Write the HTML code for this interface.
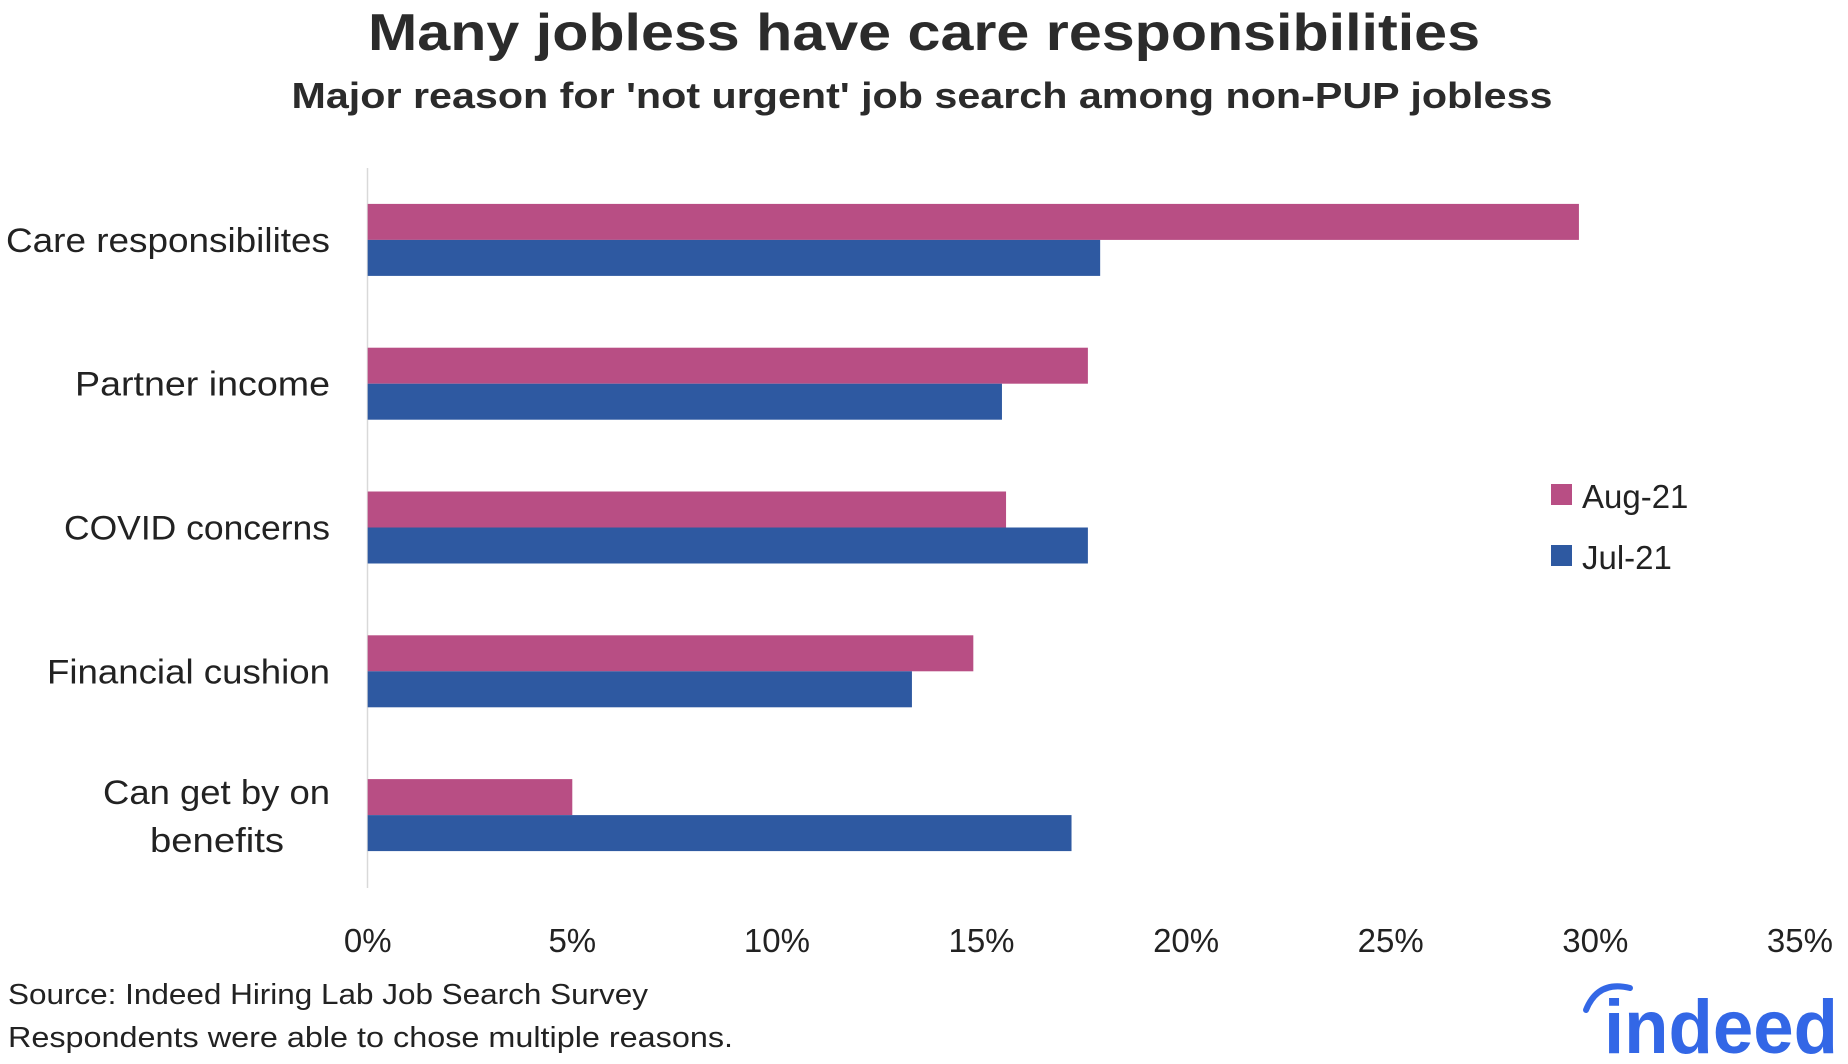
<!DOCTYPE html>
<html><head><meta charset="utf-8"><style>
html,body{margin:0;padding:0;background:#fff;}
svg{display:block;font-family:"Liberation Sans",sans-serif;}
</style></head><body>
<svg id="chart" width="1848" height="1064" viewBox="0 0 1848 1064" xmlns="http://www.w3.org/2000/svg">
<text x="924" y="50" text-anchor="middle" font-size="52" font-weight="bold" fill="#2b2b2b" textLength="1112" lengthAdjust="spacingAndGlyphs">Many jobless have care responsibilities</text>
<text x="922" y="108" text-anchor="middle" font-size="36" font-weight="bold" fill="#2b2b2b" textLength="1261" lengthAdjust="spacingAndGlyphs">Major reason for 'not urgent' job search among non-PUP jobless</text>
<line x1="367.5" y1="168" x2="367.5" y2="888" stroke="#d9d9d9" stroke-width="1.5"/>
<g id="bars"></g>
<g id="ylabels"></g>
<g id="xticks"></g>
<rect x="1551" y="484" width="21" height="21" fill="#b84e84"/>
<text x="1582" y="508" font-size="33" fill="#222">Aug-21</text>
<rect x="1551" y="545" width="21" height="21" fill="#2e59a1"/>
<text x="1582" y="569" font-size="33" fill="#222">Jul-21</text>
<text x="8" y="1004" font-size="29" fill="#222" textLength="640" lengthAdjust="spacingAndGlyphs">Source: Indeed Hiring Lab Job Search Survey</text>
<text x="8" y="1047" font-size="29" fill="#222" textLength="725" lengthAdjust="spacingAndGlyphs">Respondents were able to chose multiple reasons.</text>
<path d="M1586 1010 Q1598 980 1630 988" stroke="#3367e6" stroke-width="6" fill="none" stroke-linecap="round"/>
<text x="1604" y="1053" font-size="76" font-weight="bold" fill="#3367e6" textLength="234" lengthAdjust="spacingAndGlyphs">indeed</text>
</svg>
<script>
const categories = ["Care responsibilites","Partner income","COVID concerns","Financial cushion","Can get by on benefits"];
const aug21 = [29.6, 17.6, 15.6, 14.8, 5.0];
const jul21 = [17.9, 15.5, 17.6, 13.3, 17.2];
const tickValues = [0,5,10,15,20,25,30,35];
const tickLabels = ["0%","5%","10%","15%","20%","25%","30%","35%"];

const NS = "http://www.w3.org/2000/svg";
const labelWidths = [324, 255, 266, 283, 227];
const x0 = 367.7, pxPer = 204.6/5, plotTop = 168, band = 143.8, barH = 36;
const xScale = v => x0 + v*pxPer;
const yCenter = i => plotTop + band*(i+0.5);
function mk(tag, attrs){const e=document.createElementNS(NS,tag);for(const k in attrs)e.setAttribute(k,attrs[k]);return e;}
const barsG=document.getElementById('bars'), ylG=document.getElementById('ylabels'), xtG=document.getElementById('xticks');
categories.forEach((c,i)=>{
  const cy=yCenter(i);
  const a=mk('rect',{x:x0,y:cy-barH,width:xScale(aug21[i])-x0,height:barH,fill:'#b84e84'});
  
  
  barsG.appendChild(a);
  const b=mk('rect',{x:x0,y:cy,width:xScale(jul21[i])-x0,height:barH,fill:'#2e59a1'});
  
  
  barsG.appendChild(b);
  if(c==="Can get by on benefits"){
    const t1=mk('text',{x:330,y:cy-11,'text-anchor':'end','font-size':34,fill:'#222',textLength:labelWidths[i],lengthAdjust:'spacingAndGlyphs'});t1.textContent="Can get by on";
    
    
    ylG.appendChild(t1);
    const t2=mk('text',{x:217,y:cy+37,'text-anchor':'middle','font-size':34,fill:'#222',textLength:134,lengthAdjust:'spacingAndGlyphs'});t2.textContent="benefits";
    
    
    ylG.appendChild(t2);
  } else {
    const t=mk('text',{x:330,y:cy+12,'text-anchor':'end','font-size':34,fill:'#222',textLength:labelWidths[i],lengthAdjust:'spacingAndGlyphs'});t.textContent=c;
    
    
    ylG.appendChild(t);
  }
});
tickValues.forEach((v,i)=>{
  const t=mk('text',{x:xScale(v),y:952,'text-anchor':'middle','font-size':33,fill:'#222'});t.textContent=tickLabels[i];
  
  
  xtG.appendChild(t);
});
</script>
</body></html>
